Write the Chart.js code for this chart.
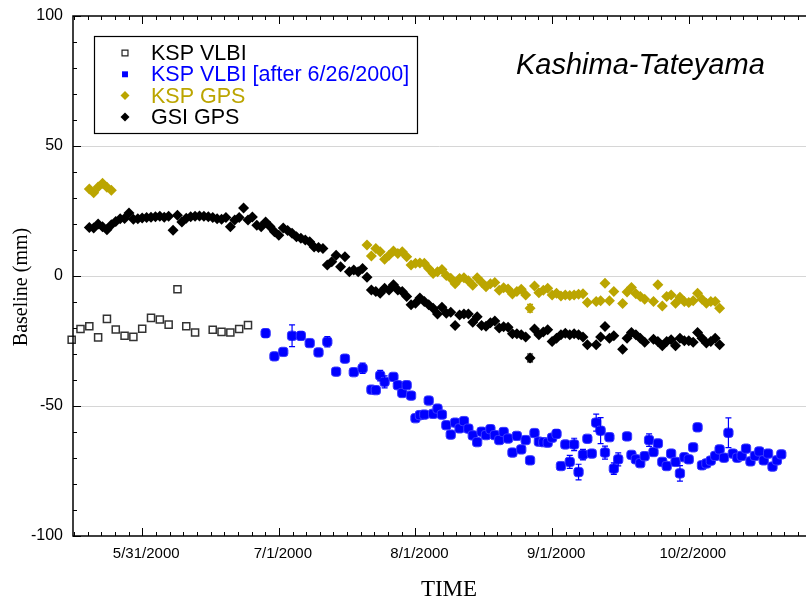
<!DOCTYPE html>
<html>
<head>
<meta charset="utf-8">
<script src="https://cdn.jsdelivr.net/npm/chart.js@4/dist/chart.umd.min.js"></script>
<style>
  body { margin: 0; background: #fff; }
  canvas { display: block; }
</style>
</head>
<body>
<canvas id="baseline" width="806" height="603"></canvas>
<script>
// x values are days counted from 5/31/2000
var tickDays = [0, 31, 62, 93, 124];
var tickLabels = ['5/31/2000', '7/1/2000', '8/1/2000', '9/1/2000', '10/2/2000'];

// KSP VLBI (before 6/26/2000)
var vlbiOldDays = [-16, -14, -12, -10, -8, -6, -4, -2, 0, 2, 4, 6, 8, 10, 12, 16, 18, 20, 22, 24];
var vlbiOldValues = [-24.5, -20.4, -19.3, -23.6, -16.5, -20.6, -23.0, -23.4, -20.3, -16.1, -16.7, -18.7, -5.1, -19.3, -21.7, -20.7, -21.5, -21.7, -20.4, -18.9];

// KSP VLBI after 6/26/2000
var vlbiNewDays = [28, 30, 32, 34, 36, 38, 40, 42, 44, 46, 48, 50, 52, 53, 54, 55, 57, 58, 59, 60,
  61, 62, 63, 64, 65, 66, 67, 68, 69, 70, 71, 72, 73, 74, 75, 76, 77, 78, 79, 80,
  81, 82, 83, 84, 85, 86, 87, 88, 89, 90, 91, 92, 93, 94, 95, 96, 97, 98, 99, 100,
  101, 102, 103, 104, 105, 106, 107, 108, 110, 111, 112, 113, 114, 115, 116, 117, 118, 119, 120, 121,
  122, 123, 124, 125, 126, 127, 128, 129, 130, 131, 132, 133, 134, 135, 136, 137, 138, 139, 140, 141,
  142, 143, 144, 145];
var vlbiNewValues = [-22.0, -30.9, -29.2, -23.0, -23.0, -25.8, -29.4, -25.3, -36.8, -31.8, -37.0, -35.5, -43.7, -43.9, -38.3, -40.7, -38.8, -42.0, -45.0, -42.0,
  -46.0, -54.7, -53.5, -53.3, -47.9, -53.0, -51.0, -53.3, -57.4, -61.0, -56.4, -58.6, -55.8, -58.7, -61.3, -63.9, -59.9, -61.2, -58.9, -61.2,
  -63.1, -60.0, -62.5, -67.9, -61.5, -66.7, -63.1, -70.9, -60.4, -63.7, -63.9, -64.1, -62.2, -60.7, -73.1, -64.8, -71.5, -64.8, -75.4, -68.7,
  -62.6, -68.3, -56.4, -59.5, -67.9, -62.0, -74.1, -70.5, -61.7, -68.8, -70.5, -72.0, -69.3, -63.1, -67.7, -64.4, -71.5, -73.1, -68.3, -71.5,
  -75.9, -69.7, -70.5, -65.9, -58.2, -72.8, -72.1, -71.0, -69.2, -66.7, -69.9, -60.3, -68.3, -69.9, -69.2, -66.4, -71.3, -69.2, -67.5, -70.9,
  -68.3, -73.3, -70.9, -68.6];
var vlbiErrDays = [28, 34, 36, 42, 50, 54, 55, 94, 97, 98, 99, 100, 103, 104, 105, 107, 108, 115, 122, 133];
var vlbiErrSizes = [1.5, 4.2, 1.5, 2.0, 2.0, 2.0, 2.3, 1.5, 2.5, 2.4, 3.0, 2.0, 3.3, 5.0, 2.5, 2.2, 2.5, 2.4, 3.0, 5.7];

// KSP GPS
var kspGpsDays = [-12, -11, -10, -9, -8, -7,
  51, 52, 53, 54, 55, 56, 57, 58, 59, 60, 61, 62, 63, 64, 65, 66, 67, 68, 69, 70,
  71, 72, 73, 74, 75, 76, 77, 78, 79, 80, 81, 82, 83, 84, 85, 86, 87, 88, 89, 90,
  91, 92, 93, 94, 95, 96, 97, 98, 99, 100, 101, 103, 104, 105, 106, 107,
  109, 110, 111, 112, 113, 114, 116, 117, 118, 119, 120, 121, 122, 123, 124, 125, 126, 127, 128, 129, 130, 131];
var kspGpsValues = [33.5, 32.0, 34.2, 35.7, 34.1, 33.0,
  11.9, 7.7, 10.6, 9.3, 6.4, 8.0, 9.6, 8.7, 9.3, 7.4, 4.2, 4.9, 5.0, 4.9, 2.9, 1.0, 1.6, 2.5, 0.2, -0.9,
  -3.0, -1.0, -0.7, -1.8, -3.6, -0.7, -2.4, -4.1, -3.0, -2.5, -5.5, -4.5, -5.0, -6.9, -6.0, -5.1, -7.3, -12.4, -3.8, -6.4,
  -5.5, -4.7, -7.3, -6.6, -7.7, -7.3, -7.5, -7.3, -7.0, -6.8, -10.2, -9.8, -9.5, -2.8, -9.5, -6.0,
  -10.6, -6.2, -4.4, -6.8, -7.9, -8.9, -9.8, -3.4, -11.5, -7.9, -7.3, -10.5, -8.2, -9.8, -10.2, -9.5, -6.6, -8.9, -10.5, -9.8, -9.8, -12.4];
var kspGpsErrDays = [88];
var kspGpsErrSizes = [1.5];

// GSI GPS
var gsiDays = [-12, -11, -10, -9, -8, -7, -6, -5, -4, -3, -2, -1, 0, 1, 2, 3, 4, 5, 6, 7,
  8, 9, 10, 11, 12, 13, 14, 15, 16, 17, 18, 19, 20, 21, 22, 23, 24, 25, 26, 27,
  28, 29, 30, 31, 32, 33, 34, 35, 36, 37, 38, 39, 40, 41, 42, 43, 44, 45, 46, 47,
  48, 49, 50, 51, 52, 53, 54, 55, 56, 57, 58, 59, 60, 61, 62, 63, 64, 65, 66, 67,
  68, 69, 70, 71, 72, 73, 74, 75, 76, 77, 78, 79, 80, 81, 82, 83, 84, 85, 86, 87,
  88, 89, 90, 91, 92, 93, 94, 95, 96, 97, 98, 99, 100, 101, 103, 104, 105, 106, 107,
  109, 110, 111, 112, 113, 114, 116, 117, 118, 119, 120, 121, 122, 123, 124, 125, 126, 127, 128, 129, 130, 131];
var gsiValues = [18.7, 18.5, 20.0, 18.9, 17.8, 19.7, 21.0, 22.0, 22.1, 24.2, 21.8, 22.0, 22.3, 22.5, 22.6, 22.8, 23.0, 22.6, 23.0, 17.6,
  23.4, 20.8, 22.2, 22.8, 23.0, 23.1, 23.0, 22.8, 22.5, 22.0, 21.8, 22.5, 18.9, 21.5, 22.5, 26.2, 21.5, 22.7, 19.5, 18.9,
  20.8, 19.0, 17.0, 15.7, 18.5, 17.5, 16.4, 15.1, 14.5, 13.8, 13.2, 11.2, 11.0, 10.6, 4.2, 5.5, 8.0, 3.6, 7.4, 1.6,
  2.3, 1.6, 2.9, -0.5, -5.4, -6.0, -6.6, -4.7, -5.4, -3.4, -5.4, -6.0, -7.9, -11.1, -10.5, -8.5, -9.8, -11.1, -12.4, -14.6,
  -12.0, -14.3, -13.9, -19.0, -15.0, -14.6, -14.6, -17.8, -15.7, -19.0, -19.3, -18.0, -17.3, -20.0, -19.5, -19.7, -22.2, -22.2, -22.6, -23.5,
  -31.5, -20.4, -22.6, -21.5, -20.7, -25.2, -23.9, -22.6, -22.0, -22.6, -22.2, -22.6, -23.5, -26.4, -26.4, -23.5, -19.4, -23.9, -23.0,
  -28.2, -23.9, -21.7, -22.6, -23.9, -25.5, -24.3, -25.2, -26.8, -25.2, -24.5, -26.8, -23.9, -24.9, -24.9, -25.5, -21.7, -23.9, -25.8, -25.2, -23.9, -26.4];
var gsiErrDays = [88];
var gsiErrSizes = [1.5];

var OLIVE = '#bba500';
var BLUE = '#0000ff';

function toPoints(days, values) {
  var pts = [];
  for (var i = 0; i < days.length; i++) {
    pts.push({ x: days[i], y: values[i] });
  }
  return pts;
}

var errorSets = [
  { days: vlbiErrDays, sizes: vlbiErrSizes, values: vlbiNewValues, from: vlbiNewDays, color: BLUE },
  { days: kspGpsErrDays, sizes: kspGpsErrSizes, values: kspGpsValues, from: kspGpsDays, color: OLIVE },
  { days: gsiErrDays, sizes: gsiErrSizes, values: gsiValues, from: gsiDays, color: '#000' }
];

var legendRows = [
  { text: 'KSP VLBI', color: '#000', style: 'rect', radius: 4.2, fill: '#fff', border: '#222', bw: 1.2 },
  { text: 'KSP VLBI [after 6/26/2000]', color: BLUE, style: 'rect', radius: 4.2, fill: BLUE, border: BLUE, bw: 0 },
  { text: 'KSP GPS', color: OLIVE, style: 'rectRot', radius: 4.5, fill: OLIVE, border: OLIVE, bw: 0 },
  { text: 'GSI GPS', color: '#000', style: 'rectRot', radius: 4.5, fill: '#000', border: '#000', bw: 0 }
];

var decorPlugin = {
  id: 'decor',
  afterDatasetsDraw: function (chart) {
    var ctx = chart.ctx;
    var xs = chart.scales.x, ys = chart.scales.y;
    ctx.save();
    errorSets.forEach(function (set) {
      ctx.strokeStyle = set.color;
      ctx.lineWidth = 1.2;
      for (var i = 0; i < set.days.length; i++) {
        var idx = set.from.indexOf(set.days[i]);
        if (idx < 0) continue;
        var v = set.values[idx];
        var px = xs.getPixelForValue(set.days[i]);
        var top = ys.getPixelForValue(v + set.sizes[i]);
        var bot = ys.getPixelForValue(v - set.sizes[i]);
        ctx.beginPath();
        ctx.moveTo(px, top); ctx.lineTo(px, bot);
        ctx.moveTo(px - 3, top); ctx.lineTo(px + 3, top);
        ctx.moveTo(px - 3, bot); ctx.lineTo(px + 3, bot);
        ctx.stroke();
      }
    });
    ctx.restore();
  },
  afterDraw: function (chart) {
    var ctx = chart.ctx;
    var ca = chart.chartArea;
    var xs = chart.scales.x, ys = chart.scales.y;
    ctx.save();

    // frame: left, bottom and top axes
    ctx.strokeStyle = '#000';
    ctx.lineWidth = 1.5;
    ctx.beginPath();
    ctx.moveTo(ca.right, ca.top);
    ctx.lineTo(ca.left, ca.top);
    ctx.lineTo(ca.left, ca.bottom);
    ctx.lineTo(ca.right, ca.bottom);
    ctx.stroke();

    // inward ticks on x (major every 31 days, minor every 3.1)
    ctx.lineWidth = 1;
    ctx.beginPath();
    for (var d = -15.5; d <= xs.max; d += 3.1) {
      var px = Math.round(xs.getPixelForValue(d)) + 0.5;
      var major = tickDays.some(function (t) { return Math.abs(t - d) < 0.01; });
      var len = major ? 8 : 4;
      ctx.moveTo(px, ca.bottom); ctx.lineTo(px, ca.bottom - len);
      ctx.moveTo(px, ca.top); ctx.lineTo(px, ca.top + len);
    }
    // inward ticks on y
    for (var v = -100; v <= 100; v += 10) {
      var py = Math.round(ys.getPixelForValue(v)) + 0.5;
      var l = (v % 50 === 0) ? 8 : 4;
      ctx.moveTo(ca.left, py); ctx.lineTo(ca.left + l, py);
    }
    ctx.stroke();

    // axis titles
    ctx.fillStyle = '#000';
    ctx.textAlign = 'center';
    ctx.textBaseline = 'alphabetic';
    ctx.font = '23px "Liberation Serif"';
    ctx.fillText('TIME', 449, 596);
    ctx.save();
    ctx.translate(27, 287);
    ctx.rotate(-Math.PI / 2);
    ctx.font = '20px "Liberation Serif"';
    ctx.fillText('Baseline (mm)', 0, 0);
    ctx.restore();

    // station pair name
    ctx.textAlign = 'left';
    ctx.font = 'italic 29px "Liberation Sans"';
    ctx.fillText('Kashima-Tateyama', 516, 74);

    // legend box
    ctx.fillStyle = '#fff';
    ctx.fillRect(94, 36, 324, 98);
    ctx.strokeStyle = '#000';
    ctx.lineWidth = 1.2;
    ctx.strokeRect(94.5, 36.5, 323, 97);
    ctx.textBaseline = 'middle';
    ctx.font = '21.5px "Liberation Sans"';
    legendRows.forEach(function (row, i) {
      var y = 53 + i * 21.3;
      ctx.fillStyle = row.fill;
      ctx.strokeStyle = row.border;
      ctx.lineWidth = row.bw;
      Chart.helpers.drawPoint(ctx, { pointStyle: row.style, radius: row.radius, rotation: 0, borderWidth: row.bw }, 125, y);
      ctx.fillStyle = row.color;
      ctx.fillText(row.text, 151, y + 1);
    });
    ctx.restore();
  }
};

var ctx = document.getElementById('baseline').getContext('2d');

var chart = new Chart(ctx, {
  type: 'scatter',
  data: {
    datasets: [
      {
        label: 'KSP VLBI',
        data: toPoints(vlbiOldDays, vlbiOldValues),
        pointStyle: 'rect', pointRadius: 5,
        backgroundColor: '#fff', borderColor: '#333', borderWidth: 1.5,
        clip: false
      },
      {
        label: 'KSP VLBI [after 6/26/2000]',
        data: toPoints(vlbiNewDays, vlbiNewValues),
        pointStyle: 'rectRounded', pointRadius: 5.4,
        backgroundColor: BLUE, borderColor: '#3a3aff', borderWidth: 1,
        clip: false
      },
      {
        label: 'KSP GPS',
        data: toPoints(kspGpsDays, kspGpsValues),
        pointStyle: 'rectRot', pointRadius: 5.5,
        backgroundColor: OLIVE, borderColor: OLIVE, borderWidth: 0,
        clip: false
      },
      {
        label: 'GSI GPS',
        data: toPoints(gsiDays, gsiValues),
        pointStyle: 'rectRot', pointRadius: 5.5,
        backgroundColor: '#000', borderColor: '#000', borderWidth: 0,
        clip: false
      }
    ]
  },
  options: {
    responsive: false,
    animation: false,
    layout: { autoPadding: false, padding: { top: 16, right: 0, left: 0, bottom: 0 } },
    plugins: {
      legend: { display: false },
      tooltip: { enabled: false }
    },
    scales: {
      x: {
        type: 'linear',
        min: -15.7,
        max: 150.6,
        grid: { display: false, drawTicks: false },
        border: { display: false },
        afterBuildTicks: function (scale) {
          scale.ticks = tickDays.map(function (d) { return { value: d }; });
        },
        afterFit: function (scale) {
          scale.height = 67;
          scale.paddingLeft = 0;
          scale.paddingRight = 0;
        },
        ticks: {
          autoSkip: false,
          maxRotation: 0,
          padding: 9,
          labelOffset: 4,
          color: '#000',
          font: { family: 'Liberation Sans', size: 15 },
          callback: function (value) { return tickLabels[tickDays.indexOf(value)]; }
        }
      },
      y: {
        min: -100,
        max: 100,
        afterFit: function (scale) {
          scale.width = 73;
          scale.paddingTop = 0;
          scale.paddingBottom = 0;
        },
        border: { display: false },
        grid: {
          drawTicks: false,
          lineWidth: 1,
          color: function (c) {
            var v = c.tick.value;
            return (v === 50 || v === 0 || v === -50) ? '#d6d6d6' : 'rgba(0,0,0,0)';
          }
        },
        ticks: {
          stepSize: 50,
          padding: 10,
          color: '#000',
          font: { family: 'Liberation Sans', size: 16 }
        }
      }
    }
  },
  plugins: [decorPlugin]
});
</script>
</body>
</html>
